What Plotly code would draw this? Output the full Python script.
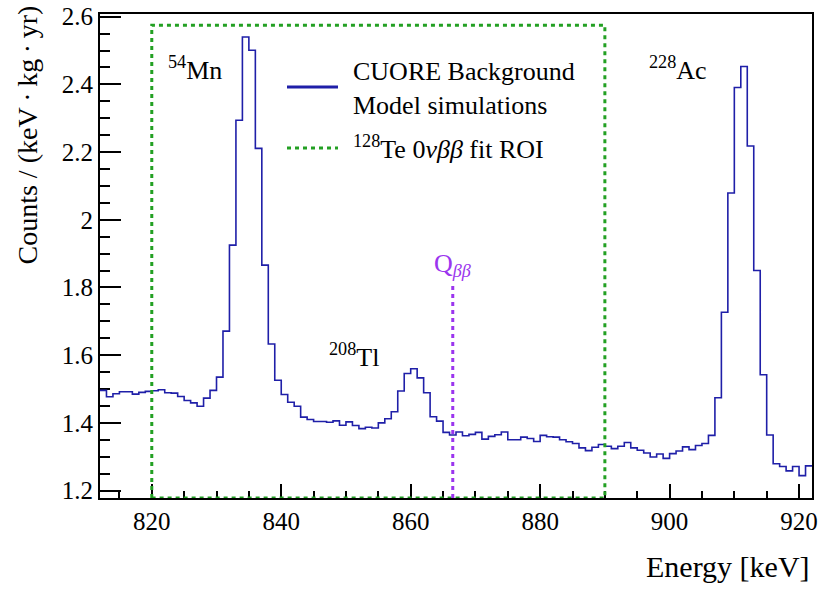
import plotly.graph_objects as go

# 1 keV bins from 812 to 922 keV (lower edges)
bin_lo = list(range(812, 922))
counts = [
    1.496, 1.477, 1.486, 1.492, 1.492, 1.485, 1.490, 1.493, 1.495, 1.498,  # 812-821
    1.489, 1.488, 1.478, 1.466, 1.459, 1.449, 1.473, 1.496, 1.535, 1.671,  # 822-831
    1.925, 2.294, 2.540, 2.501, 2.211, 1.866, 1.633, 1.526, 1.484, 1.461,  # 832-841
    1.449, 1.417, 1.410, 1.404, 1.404, 1.402, 1.406, 1.393, 1.403, 1.392,  # 842-851
    1.383, 1.387, 1.385, 1.400, 1.412, 1.433, 1.494, 1.546, 1.560, 1.533,  # 852-861
    1.489, 1.418, 1.405, 1.372, 1.364, 1.373, 1.362, 1.366, 1.372, 1.352,  # 862-871
    1.360, 1.365, 1.373, 1.350, 1.350, 1.358, 1.354, 1.345, 1.363, 1.359,  # 872-881
    1.358, 1.350, 1.344, 1.339, 1.326, 1.318, 1.328, 1.336, 1.331, 1.324,  # 882-891
    1.331, 1.342, 1.326, 1.319, 1.311, 1.299, 1.308, 1.295, 1.309, 1.317,  # 892-901
    1.329, 1.321, 1.333, 1.339, 1.363, 1.474, 1.727, 2.079, 2.391, 2.453,  # 902-911
    2.218, 1.850, 1.542, 1.364, 1.279, 1.271, 1.258, 1.271, 1.244, 1.273,  # 912-921
]
bin_width = 1

roi = (820, 890)
roi_top = 2.575
q_bb = 866.5
q_bb_top = 1.81

peaks = [("<sup>54</sup>Mn", 826.7, 2.448),
         ("<sup>208</sup>Tl", 851.3, 1.600),
         ("<sup>228</sup>Ac", 901.3, 2.448)]

x_range = [812, 922]
y_range = [1.178, 2.608]

_BLUE, _GREEN, _PURPLE = "#1f1fa8", "#23a023", "#9b35ee"
_FONT = "Liberation Serif"

edges = bin_lo + [bin_lo[-1] + bin_width]
fig = go.Figure()
fig.add_scatter(x=edges, y=counts + [counts[-1]], mode="lines", line_shape="hv",
                line={"color": _BLUE, "width": 1.6}, showlegend=False, hoverinfo="skip")
fig.add_scatter(x=[roi[0], roi[0], roi[1], roi[1], roi[0]],
                y=[y_range[0], roi_top, roi_top, y_range[0], y_range[0]],
                mode="lines", line={"color": _GREEN, "width": 3, "dash": "4px,4px"},
                showlegend=False, hoverinfo="skip")
fig.add_scatter(x=[q_bb, q_bb], y=[y_range[0], q_bb_top], mode="lines",
                line={"color": _PURPLE, "width": 3, "dash": "4px,4px"},
                showlegend=False, hoverinfo="skip")

for text, x, y in peaks:
    fig.add_annotation(x=x, y=y, text=text, showarrow=False,
                       font={"size": 26, "color": "black", "family": _FONT})
fig.add_annotation(x=q_bb, y=1.866, text="Q<sub><i>ββ</i></sub>", showarrow=False,
                   font={"size": 26, "color": _PURPLE, "family": _FONT})


# hand-drawn legend; helpers map figure pixels to paper coords (plot area 712 x 484)
def px(x):
    return (x - 100) / 712


def py(y):
    return (498 - y) / 484


fig.add_shape(type="line", xref="paper", yref="paper", x0=px(287), x1=px(338),
              y0=py(87), y1=py(87), line={"color": _BLUE, "width": 3})
fig.add_shape(type="line", xref="paper", yref="paper", x0=px(287), x1=px(338),
              y0=py(148), y1=py(148), line={"color": _GREEN, "width": 3, "dash": "4px,4px"})
fig.add_annotation(xref="paper", yref="paper", x=px(351), y=py(88), xanchor="left",
                   yanchor="middle", align="left",
                   text="CUORE Background<br>Model simulations",
                   showarrow=False, font={"size": 26, "color": "black", "family": _FONT})
fig.add_annotation(xref="paper", yref="paper", x=px(351), y=py(147), xanchor="left",
                   yanchor="middle", text="<sup>128</sup>Te 0<i>νββ</i> fit ROI",
                   showarrow=False, font={"size": 26, "color": "black", "family": _FONT})

# axis titles, ROOT style (right/top aligned)
fig.add_annotation(xref="paper", yref="paper", x=1.0, y=py(566), xanchor="right",
                   yanchor="middle", text="Energy [keV]", showarrow=False,
                   font={"size": 30, "color": "black", "family": _FONT})
fig.add_annotation(xref="paper", yref="paper", x=px(27), y=py(4), xanchor="center",
                   yanchor="top", textangle=-90,
                   text="Counts / (keV\u2009·\u2009kg\u2009·\u2009yr)",
                   showarrow=False, font={"size": 28, "color": "black", "family": _FONT})

axis_common = {
    "showgrid": False, "zeroline": False, "showline": True, "mirror": True,
    "linecolor": "black", "linewidth": 2, "ticks": "inside", "tickcolor": "black",
    "tickwidth": 1.5, "layer": "below traces", "automargin": False,
    "ticklabeloverflow": "allow",
    "tickfont": {"size": 25, "color": "black", "family": _FONT},
}
fig.update_xaxes(range=x_range, tick0=820, dtick=20, ticklen=14,
                 minor={"dtick": 5, "ticklen": 7, "ticks": "inside", "tickcolor": "black",
                        "tickwidth": 1.5},
                 **axis_common)
fig.update_yaxes(range=y_range, tick0=1.2, dtick=0.2, ticklen=21,
                 minor={"dtick": 0.05, "ticklen": 10, "ticks": "inside", "tickcolor": "black",
                        "tickwidth": 1.5},
                 **axis_common)
fig.update_layout(width=830, height=592, paper_bgcolor="white", plot_bgcolor="white",
                  margin={"l": 100, "r": 18, "t": 14, "b": 94}, showlegend=False,
                  font={"family": _FONT, "color": "black"})
# drop the page's default 8 px body margin so the figure fills the window
fig.write_html("out.html", config={"displayModeBar": False},
               post_script="document.body.style.margin = '0';")
